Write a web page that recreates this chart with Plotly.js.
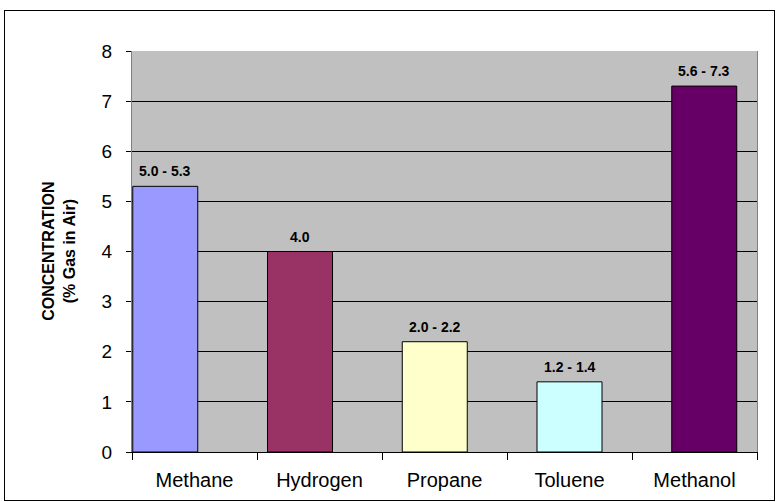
<!DOCTYPE html>
<html>
<head>
<meta charset="utf-8">
<script src="https://cdn.plot.ly/plotly-3.0.1.min.js"></script>
<style>
  html, body { margin: 0; padding: 0; background: #ffffff; }
  #wrap { position: relative; width: 776px; height: 502px; overflow: hidden; }
  #chart { position: absolute; left: 0; top: 0; width: 776px; height: 502px; }
  #frame { position: absolute; left: 4px; top: 10px; width: 769px; height: 489px; border: 1px solid #000; pointer-events: none; }
</style>
</head>
<body>
<div id="wrap">
  <div id="chart"></div>
  <div id="frame"></div>
</div>
<script>
// Data
const categories = ["Methane", "Hydrogen", "Propane", "Toluene", "Methanol"];
const upperValues = [5.3, 4.0, 2.2, 1.4, 7.3];
const rangeLabels = ["5.0 - 5.3", "4.0", "2.0 - 2.2", "1.2 - 1.4", "5.6 - 7.3"];
const yTicks = [0, 1, 2, 3, 4, 5, 6, 7, 8];

// Styles
const barColors = ["#9999FF", "#993366", "#FFFFCC", "#CCFFFF", "#660066"];
const barWidth = 0.52;
const barOffsets = categories.map((c, i) => -0.494 + i * 0.078);
const fontFam = '"Liberation Sans", Arial, sans-serif';

const trace = {
  type: 'bar',
  x: categories,
  y: upperValues,
  width: barWidth,
  offset: barOffsets,
  marker: { color: barColors, line: { color: '#000000', width: 1 } },
  hoverinfo: 'x+y'
};

const annotations = categories.map((c, i) => ({
  x: i + barOffsets[i] + barWidth / 2,
  y: upperValues[i],
  xref: 'x', yref: 'y',
  text: '<b>' + rangeLabels[i] + '</b>',
  showarrow: false,
  xanchor: 'center', yanchor: 'bottom',
  yshift: 5,
  font: { family: fontFam, size: 14, color: '#000000' }
}));

annotations.push({
  xref: 'paper', yref: 'paper',
  x: -0.118, y: 0.5,
  xanchor: 'center', yanchor: 'middle',
  text: '<b>CONCENTRATION<br>(% Gas in Air)</b>',
  showarrow: false,
  textangle: -90,
  font: { family: fontFam, size: 16, color: '#000000' }
});

const layout = {
  width: 776, height: 502,
  margin: { l: 132, r: 19, t: 51, b: 50, pad: 0 },
  paper_bgcolor: '#FFFFFF',
  plot_bgcolor: '#C0C0C0',
  showlegend: false,
  bargap: 0,
  font: { family: fontFam, color: '#000000' },
  xaxis: {
    type: 'category',
    tickson: 'boundaries',
    ticks: 'outside', ticklen: 7, tickcolor: '#000000', tickwidth: 1,
    showline: true, linecolor: '#000000', linewidth: 1,
    showgrid: false,
    tickfont: { family: fontFam, size: 20, color: '#000000' },
    ticklabelstandoff: 10,
    range: [-0.5, 4.5]
  },
  yaxis: {
    range: [0, 8],
    tickvals: yTicks,
    ticktext: yTicks.map(String),
    ticks: 'outside', ticklen: 5, tickcolor: '#000000', tickwidth: 1,
    showline: true, linecolor: '#808080', linewidth: 1, mirror: true,
    showgrid: true, gridcolor: '#000000', gridwidth: 1,
    zeroline: false,
    tickfont: { family: fontFam, size: 19, color: '#000000' },
    ticklabelstandoff: 10
  },
  annotations: annotations
};

Plotly.newPlot('chart', [trace], layout, { displayModeBar: false, staticPlot: true });
</script>
</body>
</html>
